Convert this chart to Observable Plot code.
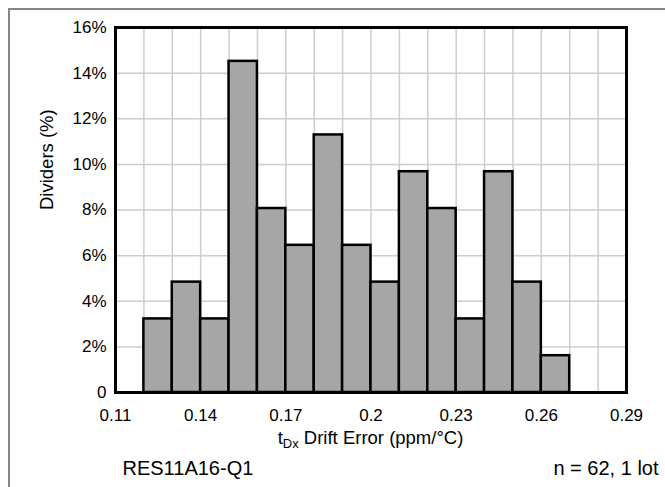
<!DOCTYPE html>
<html>
<head>
<meta charset="utf-8">
<script src="https://cdn.jsdelivr.net/npm/d3@7"></script>
<script src="https://cdn.jsdelivr.net/npm/@observablehq/plot@0.6"></script>
<style>
  html, body { margin: 0; padding: 0; background: #fff; }
  #wrap { position: relative; width: 665px; height: 487px; overflow: hidden; }
  #border { position: absolute; left: 8px; top: 8px; right: -4px; bottom: -4px;
            border-left: 2px solid #858585; border-top: 2px solid #858585; }
  #chart { position: absolute; left: 0; top: 0; }
</style>
</head>
<body>
<div id="wrap"><div id="border"></div><div id="chart"></div></div>
<script>
// Histogram of drift error, bins of 0.01 ppm/°C
const binStart = [0.12, 0.13, 0.14, 0.15, 0.16, 0.17, 0.18, 0.19, 0.20, 0.21, 0.22, 0.23, 0.24, 0.25, 0.26];
const binWidth = 0.01;
const counts = [2, 3, 2, 9, 5, 4, 7, 4, 3, 6, 5, 2, 6, 3, 1];
const total = 62;

const xTicks = [0.11, 0.14, 0.17, 0.2, 0.23, 0.26, 0.29];
const xGrid = [0.11, 0.12, 0.13, 0.14, 0.15, 0.16, 0.17, 0.18, 0.19, 0.20,
               0.21, 0.22, 0.23, 0.24, 0.25, 0.26, 0.27, 0.28, 0.29];
const yTicks = [0, 2, 4, 6, 8, 10, 12, 14, 16];

const captionLeft = "RES11A16-Q1";
const captionRight = "n = 62, 1 lot";

const bins = binStart.map((x0, i) => ({
  x1: x0,
  x2: +(x0 + binWidth).toFixed(2),
  pct: counts[i] / total * 100
}));

const font = "'Liberation Sans', Arial, Helvetica, sans-serif";

const chart = Plot.plot({
  width: 665,
  height: 487,
  marginTop: 27,
  marginLeft: 115,
  marginRight: 39,
  marginBottom: 95,
  style: { fontFamily: font, fontSize: "17px", color: "#000", background: "transparent", overflow: "visible" },
  x: { domain: [0.11, 0.29] },
  y: { domain: [0, 16] },
  marks: [
    Plot.gridX(xGrid, { stroke: "#cdcdcd", strokeOpacity: 1, strokeWidth: 1.5 }),
    Plot.gridY(yTicks, { stroke: "#cdcdcd", strokeOpacity: 1, strokeWidth: 1.5 }),
    Plot.rectY(bins, { x1: "x1", x2: "x2", y: "pct", fill: "#a6a6a6", stroke: "#000", strokeWidth: 2.5, inset: 0 }),
    Plot.frame({ stroke: "#000", strokeWidth: 3 }),
    Plot.axisX(xTicks, { tickSize: 0, tickPadding: 16, tickFormat: d => String(d), label: null, fontSize: 17 }),
    Plot.axisY(yTicks, { tickSize: 0, tickPadding: 9, tickFormat: d => d === 0 ? "0" : d + "%", label: null, fontSize: 17 }),
    Plot.text(["Dividers (%)"], { frameAnchor: "left", rotate: -90, dx: -68, fontSize: 18.5 }),
    Plot.text([captionLeft], { frameAnchor: "bottom-left", textAnchor: "start", lineAnchor: "bottom", dx: 7, dy: 82, fontSize: 20 }),
    Plot.text([captionRight], { frameAnchor: "bottom-right", textAnchor: "end", lineAnchor: "bottom", dx: 32, dy: 82, fontSize: 20 })
  ]
});

// x-axis title with subscript
const svg = d3.select(chart);
const title = svg.append("text")
  .attr("x", 370.5)
  .attr("y", 444)
  .attr("text-anchor", "middle")
  .attr("font-family", font)
  .attr("font-size", 18.5)
  .attr("fill", "#000");
title.append("tspan").text("t");
title.append("tspan").attr("font-size", 13).attr("dy", 3.5).text("Dx");
title.append("tspan").attr("dy", -3.5).text(" Drift Error (ppm/°C)");

document.getElementById("chart").appendChild(chart);
</script>
</body>
</html>
